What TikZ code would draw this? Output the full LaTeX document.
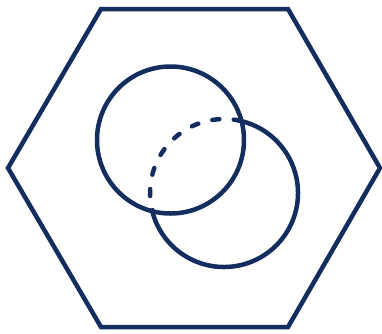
\documentclass[tikz,border=0pt]{standalone}
\definecolor{navy}{RGB}{18,45,94}
\begin{document}
\begin{tikzpicture}[x=1pt,y=-1pt,
  stroke/.style={draw=navy,line width=4.5pt},
  dashpart/.style={stroke,line cap=round,dash pattern=on 7pt off 14.5pt}]
\useasboundingbox (0,0) rectangle (382,333);
\coordinate (h1) at (8,168);
\coordinate (h2) at (101,9);
\coordinate (h3) at (288,9);
\coordinate (h4) at (380,168);
\coordinate (h5) at (288,327);
\coordinate (h6) at (101,327);
\draw[stroke,line join=miter] (h1) -- (h2) -- (h3) -- (h4) -- (h5) -- (h6) -- cycle;
\coordinate (c1) at (170.5,140);
\coordinate (c2) at (224,193);
\draw[stroke] (c1) circle[radius=73.5];
% circle 2: solid outer part, dashed inner part (y=-1pt flips angles)
\draw[stroke] (c2) ++(-192:74) arc[start angle=-192,end angle=-436.3,radius=74];
\draw[dashpart] (c2) ++(-77:74) arc[start angle=-77,end angle=-190,radius=74];
\end{tikzpicture}
\end{document}
